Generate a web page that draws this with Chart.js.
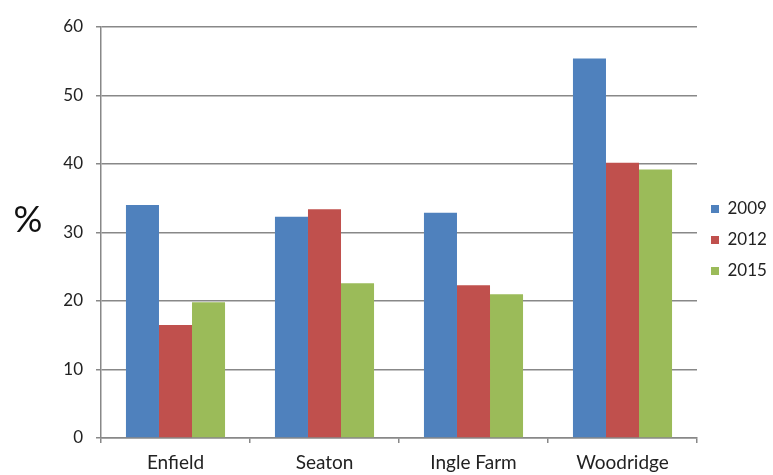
<!DOCTYPE html>
<html>
<head>
<meta charset="utf-8">
<script src="https://cdn.jsdelivr.net/npm/chart.js@4"></script>
<style>
  html, body { margin: 0; padding: 0; background: #fff; }
  #wrap { width: 773px; height: 475px; }
</style>
</head>
<body>
<div id="wrap"><canvas id="chart" width="773" height="475"></canvas></div>
<script>
// Suburbs and survey years
const categories = ['Enfield', 'Seaton', 'Ingle Farm', 'Woodridge'];
const years = ['2009', '2012', '2015'];

// Percentage per suburb for each year
const values2009 = [34.0, 32.3, 32.9, 55.4];
const values2012 = [16.5, 33.4, 22.3, 40.2];
const values2015 = [19.8, 22.6, 21.0, 39.2];

const yTicks = [0, 10, 20, 30, 40, 50, 60];

const colors = ['#4F81BD', '#C0504D', '#9BBB59'];
const FONT = 'Lato, "Open Sans", sans-serif';

// Horizontal "%" unit label left of the value axis
const unitLabel = {
  id: 'unitLabel',
  afterDraw(chart) {
    const { ctx } = chart;
    const y = chart.scales.y;
    ctx.save();
    ctx.fillStyle = '#111';
    ctx.font = '36px ' + FONT;
    ctx.textAlign = 'center';
    ctx.textBaseline = 'middle';
    ctx.fillText('%', 28, y.getPixelForValue(31.8));
    ctx.restore();
  }
};

// Lift the legend block so it sits a little above the vertical middle
const legendLift = {
  id: 'legendLift',
  afterLayout(chart) {
    const lg = chart.legend;
    if (!lg) return;
    lg.top -= 11;
    lg.bottom -= 11;
  }
};

new Chart(document.getElementById('chart'), {
  type: 'bar',
  data: {
    labels: categories,
    datasets: [
      { label: years[0], data: values2009, backgroundColor: colors[0] },
      { label: years[1], data: values2012, backgroundColor: colors[1] },
      { label: years[2], data: values2015, backgroundColor: colors[2] }
    ]
  },
  options: {
    responsive: false,
    animation: false,
    devicePixelRatio: 1,
    layout: { padding: { top: 27, left: 0, bottom: 0, right: 0 } },
    datasets: { bar: { barPercentage: 1, categoryPercentage: 0.665 } },
    plugins: {
      tooltip: { enabled: false },
      legend: {
        position: 'right',
        maxWidth: 76,
        labels: {
          boxWidth: 8,
          boxHeight: 8,
          padding: 14,
          color: '#222',
          font: { family: FONT, size: 17 }
        }
      }
    },
    scales: {
      x: {
        afterFit(scale) { scale.height = 37; },
        border: { color: '#888', width: 1.5 },
        grid: {
          offset: true,
          drawOnChartArea: false,
          drawTicks: true,
          tickLength: 5,
          color: '#888',
          lineWidth: 1.5
        },
        ticks: {
          padding: 8,
          color: '#222',
          font: { family: FONT, size: 19 }
        }
      },
      y: {
        min: 0,
        max: 60,
        afterFit(scale) { scale.width = 101; },
        afterBuildTicks(scale) { scale.ticks = yTicks.map(v => ({ value: v })); },
        border: { color: '#888', width: 1.5 },
        grid: {
          color: '#888',
          lineWidth: 1.5,
          tickLength: 5
        },
        ticks: {
          padding: 13,
          color: '#222',
          font: { family: FONT, size: 17 }
        }
      }
    }
  },
  plugins: [unitLabel, legendLift]
});
</script>
</body>
</html>
